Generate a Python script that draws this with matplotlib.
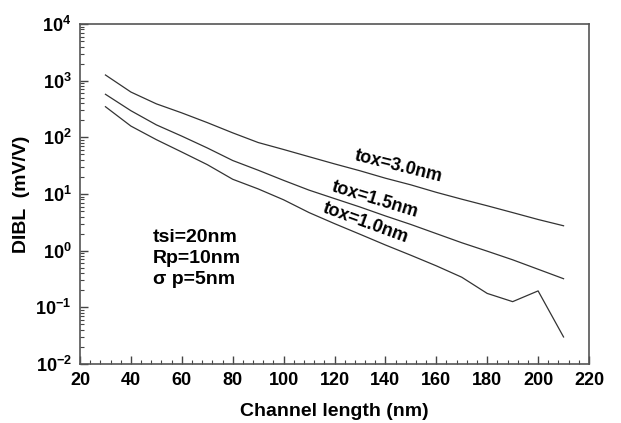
import matplotlib
matplotlib.use("Agg")
import matplotlib.pyplot as plt
from matplotlib.ticker import MultipleLocator, FixedLocator, LogLocator, NullFormatter

plt.rcParams['font.family'] = ['Liberation Sans', 'DejaVu Sans']
plt.rcParams['mathtext.fontset'] = 'custom'
plt.rcParams['mathtext.rm'] = 'Liberation Sans:bold'
plt.rcParams['mathtext.it'] = 'Liberation Sans:bold:italic'
plt.rcParams['mathtext.bf'] = 'Liberation Sans:bold'

# Data (channel length in nm, DIBL in mV/V)
channel_length = [30, 40, 50, 60, 70, 80, 90, 100, 110, 120, 130, 140, 150, 160, 170, 180, 190, 200, 210]
dibl_tox30 = [1260, 630, 390, 270, 182, 120, 81, 61, 45.5, 34, 25.7, 19, 14.5, 10.7, 8.1, 6.2, 4.7, 3.55, 2.75]
dibl_tox15 = [575, 295, 166, 105, 65, 39, 26.3, 17.4, 11.7, 8.3, 5.9, 4.1, 2.9, 2.0, 1.38, 0.98, 0.69, 0.47, 0.32]
dibl_tox10 = [347, 158, 91, 55, 33, 18.2, 12.3, 7.9, 4.7, 3.0, 1.95, 1.26, 0.83, 0.54, 0.34, 0.176, 0.126, 0.195, 0.030]

series_labels = ["tox=3.0nm", "tox=1.5nm", "tox=1.0nm"]
label_pos = [(145, 31), (136, 8.0), (132, 3.1)]
label_rot = [-14, -17, -20]

x_ticks = [20, 40, 60, 80, 100, 120, 140, 160, 180, 200, 220]
y_ticks = [1e-2, 1e-1, 1e0, 1e1, 1e2, 1e3, 1e4]
y_ticklabels = [r'$10^{-2}$', r'$10^{-1}$', r'$10^{0}$', r'$10^{1}$', r'$10^{2}$', r'$10^{3}$', r'$10^{4}$']

params_text = "tsi=20nm\nRp=10nm\nσ p=5nm"

fig = plt.figure(figsize=(6.21, 4.23), dpi=100)
ax = fig.add_axes([80/621, 1-364/423, (589-80)/621, (364-24)/423])

line_color = '#333333'
for ys in (dibl_tox30, dibl_tox15, dibl_tox10):
    ax.plot(channel_length, ys, color=line_color, lw=0.9)

ax.set_yscale('log')
ax.set_xlim(20, 220)
ax.set_ylim(1e-2, 1e4)

ax.xaxis.set_major_locator(FixedLocator(x_ticks))
ax.xaxis.set_minor_locator(MultipleLocator(4))
ax.set_xticklabels([str(v) for v in x_ticks])
ax.yaxis.set_major_locator(FixedLocator(y_ticks))
ax.set_yticklabels(y_ticklabels)
ax.yaxis.set_minor_locator(LogLocator(base=10, subs=range(2, 10), numticks=20))
ax.yaxis.set_minor_formatter(NullFormatter())

ax.tick_params(which='both', direction='in', top=False, right=False, color='#444444')
ax.tick_params(which='major', length=6, width=1, labelsize=13, pad=6)
ax.tick_params(which='minor', length=3, width=0.8)
for lab in ax.get_xticklabels():
    lab.set_fontweight('bold')

for sp in ax.spines.values():
    sp.set_color('#555555')
    sp.set_linewidth(1.2)

ax.set_xlabel("Channel length (nm)", fontsize=14, fontweight='bold', labelpad=10)
ax.set_ylabel("DIBL  (mV/V)", fontsize=14, fontweight='bold', labelpad=4)

for (lx, ly), txt, rot in zip(label_pos, series_labels, label_rot):
    ax.text(lx, ly, txt, fontsize=13, fontweight='bold',
            rotation=rot, rotation_mode='anchor', ha='center', va='center')

ax.text(48.5, 2.4, params_text, fontsize=14, fontweight='bold', ha='left', va='top',
        linespacing=1.3)

fig.savefig("out.png", dpi=100)
